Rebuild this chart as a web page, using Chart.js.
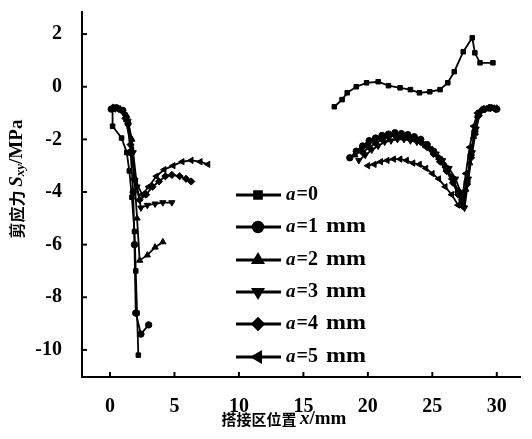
<!DOCTYPE html>
<html>
<head>
<meta charset="utf-8">
<script src="https://cdn.jsdelivr.net/npm/chart.js@4.4.0/dist/chart.umd.min.js"></script>
<style>
html,body{margin:0;padding:0;background:#fff;}
#wrap{width:532px;height:439px;}
</style>
</head>
<body>
<div id="wrap"><canvas id="shear"></canvas></div>
<script>
// series labels + tick values
var seriesNames = ['a=0', 'a=1 mm', 'a=2 mm', 'a=3 mm', 'a=4 mm', 'a=5 mm'];
var xTicks = [0, 5, 10, 15, 20, 25, 30];
var yTicks = [-10, -8, -6, -4, -2, 0, 2];

// a=0 : left drop + right upper curve (null = gap)
var x0 = [0.2,0.2,0.9,1.3,1.5,1.7,1.9,2.0,2.1,2.2,null,17.4,18.0,18.4,19.1,19.9,20.8,21.6,22.5,23.3,24.0,24.8,25.6,26.2,26.7,27.4,28.1,28.3,28.7,29.7];
var y0 = [-0.85,-1.5,-1.95,-2.5,-3.2,-4.2,-5.5,-7.0,-8.6,-10.2,null,-0.76,-0.49,-0.23,0,0.15,0.19,0.04,-0.04,-0.11,-0.23,-0.19,-0.11,0.15,0.57,1.33,1.86,1.29,0.91,0.91];

var x1 = [0.1,0.5,1.0,1.4,1.6,1.8,1.9,2.0,2.4,3.0,null,18.6,19.1,19.6,20.1,20.6,21.1,21.6,22.1,22.6,23.1,23.6,24.1,24.6,25.1,25.6,26.1,26.6,27.0,27.3,27.7,28.0,28.3,28.6,29.0,29.5,30.0];
var y1 = [-0.85,-0.8,-0.9,-1.4,-2.5,-4.0,-6.0,-8.6,-9.4,-9.05,null,-2.7,-2.45,-2.25,-2.05,-1.95,-1.85,-1.8,-1.75,-1.78,-1.82,-1.9,-2.0,-2.2,-2.45,-2.75,-3.1,-3.5,-4.0,-4.4,-3.6,-2.6,-1.7,-1.0,-0.85,-0.8,-0.85];

var x2 = [0.3,0.8,1.3,1.7,1.9,2.1,2.3,2.9,3.5,4.1,null,19.0,19.5,20.0,20.5,21.0,21.5,22.0,22.5,23.0,23.5,24.0,24.5,25.0,25.5,26.0,26.5,27.0,27.3,27.6,27.9,28.2,28.5,28.8,29.2,29.6,30.0];
var y2 = [-0.8,-0.85,-1.1,-2.0,-3.5,-5.0,-6.6,-6.4,-6.1,-5.9,null,-2.6,-2.35,-2.15,-2.0,-1.9,-1.85,-1.82,-1.85,-1.9,-1.95,-2.05,-2.2,-2.4,-2.7,-3.0,-3.45,-3.95,-4.5,-3.9,-2.9,-1.9,-1.1,-0.9,-0.85,-0.8,-0.82];

var x3 = [0.4,0.9,1.4,1.8,2.1,2.4,2.9,3.5,4.1,4.8,null,19.3,19.8,20.3,20.8,21.3,21.8,22.3,22.8,23.3,23.8,24.3,24.8,25.3,25.8,26.3,26.8,27.2,27.5,27.8,28.1,28.4,28.7,29.1,29.5,29.9];
var y3 = [-0.8,-0.9,-1.3,-2.5,-3.8,-4.6,-4.5,-4.45,-4.4,-4.4,null,-2.8,-2.6,-2.4,-2.25,-2.1,-2.05,-2.0,-2.0,-2.05,-2.1,-2.2,-2.35,-2.55,-2.8,-3.1,-3.5,-4.0,-4.6,-3.5,-2.5,-1.6,-1.0,-0.85,-0.8,-0.85];

var x4 = [0.2,0.7,1.2,1.6,1.9,2.3,2.8,3.3,3.8,4.3,4.8,5.4,5.9,6.3,null,19.6,20.1,20.6,21.1,21.6,22.1,22.6,23.1,23.6,24.1,24.6,25.1,25.6,26.1,26.6,27.0,27.4,27.7,28.0,28.3,28.6,29.0,29.4,29.8];
var y4 = [-0.8,-0.85,-1.2,-2.2,-3.5,-4.3,-4.1,-3.8,-3.6,-3.4,-3.35,-3.4,-3.5,-3.6,null,-2.5,-2.3,-2.15,-2.0,-1.9,-1.85,-1.85,-1.9,-1.95,-2.1,-2.3,-2.55,-2.85,-3.2,-3.65,-4.1,-4.55,-3.7,-2.7,-1.8,-1.1,-0.85,-0.8,-0.82];

var x5 = [0.3,0.8,1.3,1.7,2.0,2.5,3.0,3.6,4.2,4.9,5.6,6.3,7.0,7.6,null,20.0,20.5,21.0,21.5,22.0,22.5,23.0,23.5,24.0,24.5,25.0,25.5,26.0,26.5,27.0,27.3,27.6,27.9,28.2,28.5,28.9,29.4,29.9];
var y5 = [-0.85,-0.9,-1.3,-2.4,-3.6,-4.1,-3.8,-3.4,-3.15,-3.0,-2.85,-2.8,-2.85,-2.95,null,-3.0,-2.95,-2.85,-2.8,-2.75,-2.75,-2.8,-2.9,-2.95,-3.1,-3.3,-3.5,-3.8,-4.1,-4.5,-4.3,-3.3,-2.3,-1.5,-1.0,-0.85,-0.82,-0.85];

var xs = [x0, x1, x2, x3, x4, x5];
var ys = [y0, y1, y2, y3, y4, y5];
var markers = ['rect', 'circle', 'triangle', 'triangle', 'rectRot', 'triangle'];
var rotations = [0, 0, 0, 180, 0, 270];
var radii = [3.2, 3.2, 3.6, 3.6, 3.6, 3.6];

function toPoints(xa, ya){
	var pts = [];
	for(var i=0;i<xa.length;i++){
		pts.push(xa[i] === null ? {x: null, y: null} : {x: xa[i], y: ya[i]});
	}
	return pts;
}

var datasets = [];
for(var i=0;i<seriesNames.length;i++){
	datasets.push({
		label: seriesNames[i],
		data: toPoints(xs[i], ys[i]),
		borderColor: '#000',
		backgroundColor: '#000',
		borderWidth: 1.8,
		pointStyle: markers[i],
		pointRotation: rotations[i],
		pointRadius: radii[i],
		pointBorderWidth: 1,
		spanGaps: false,
		tension: 0
	});
}

var serif = '"Liberation Serif", "DejaVu Serif", serif';

// inward tick marks, axis titles, legend
var decor = {
	id: 'decor',
	afterDraw: function(chart){
		var ctx = chart.ctx, xs_ = chart.scales.x, ys_ = chart.scales.y, a = chart.chartArea;
		ctx.save();
		ctx.strokeStyle = '#000';
		ctx.lineWidth = 2;
		xTicks.forEach(function(v){
			var px = xs_.getPixelForValue(v);
			ctx.beginPath(); ctx.moveTo(px, a.bottom); ctx.lineTo(px, a.bottom - 5); ctx.stroke();
		});
		yTicks.forEach(function(v){
			var py = ys_.getPixelForValue(v);
			ctx.beginPath(); ctx.moveTo(a.left, py); ctx.lineTo(a.left + 5, py); ctx.stroke();
		});

		// x title
		ctx.fillStyle = '#000';
		ctx.textBaseline = 'middle';
		var cjk = 'bold 15px "Noto Sans CJK SC"';
		var t1 = '搭接区位置 ';
		ctx.font = cjk; var w1 = ctx.measureText(t1).width;
		ctx.font = 'italic bold 19px ' + serif; var w2 = ctx.measureText('x').width;
		ctx.font = 'bold 19px ' + serif; var w3 = ctx.measureText('/mm').width;
		var sx = 284 - (w1 + w2 + w3) / 2, ty = 419;
		ctx.textAlign = 'left';
		ctx.font = cjk; ctx.fillText(t1, sx, ty);
		ctx.font = 'italic bold 19px ' + serif; ctx.fillText('x', sx + w1, ty);
		ctx.font = 'bold 19px ' + serif; ctx.fillText('/mm', sx + w1 + w2, ty);

		// y title (rotated)
		ctx.save();
		ctx.translate(17, 179);
		ctx.rotate(-Math.PI / 2);
		var p1 = '剪应力 ';
		ctx.font = 'bold 16px "Noto Sans CJK SC"'; var q1 = ctx.measureText(p1).width;
		ctx.font = 'italic bold 19px ' + serif; var q2 = ctx.measureText('S').width;
		ctx.font = 'italic bold 13px ' + serif; var q3 = ctx.measureText('xy').width;
		ctx.font = 'bold 19px ' + serif; var q4 = ctx.measureText('/MPa').width;
		var ox = -(q1 + q2 + q3 + q4) / 2;
		ctx.font = 'bold 16px "Noto Sans CJK SC"'; ctx.fillText(p1, ox, 0);
		ctx.font = 'italic bold 19px ' + serif; ctx.fillText('S', ox + q1, 0);
		ctx.font = 'italic bold 13px ' + serif; ctx.fillText('xy', ox + q1 + q2, 4);
		ctx.font = 'bold 19px ' + serif; ctx.fillText('/MPa', ox + q1 + q2 + q3, 0);
		ctx.restore();

		// legend
		var rowY = [195, 227, 260, 292, 324, 357];
		for(var i=0;i<seriesNames.length;i++){
			var y = rowY[i];
			ctx.lineWidth = 3;
			ctx.beginPath(); ctx.moveTo(236, y); ctx.lineTo(281, y); ctx.stroke();
			Chart.helpers.drawPoint(ctx, {
				pointStyle: markers[i], rotation: rotations[i], radius: radii[i] + 1.5,
				borderWidth: 1
			}, 258, y);
			ctx.fillStyle = '#000';
			ctx.font = 'italic bold 19px ' + serif;
			ctx.fillText('a', 286, y);
			var aw = ctx.measureText('a').width;
			var parts = seriesNames[i].slice(1).split(' ');
			ctx.font = 'bold 20px ' + serif;
			ctx.fillText(parts[0], 286 + aw + 1, y);
			if(parts[1]){
				ctx.save();
				ctx.translate(326, y);
				ctx.scale(1.2, 1);
				ctx.fillText(parts[1], 0, 0);
				ctx.restore();
			}
		}
		ctx.restore();
	}
};

new Chart(document.getElementById('shear').getContext('2d'), {
	type: 'line',
	data: { datasets: datasets },
	options: {
		responsive: true,
		maintainAspectRatio: false,
		animation: false,
		layout: { padding: { top: 12, right: 12, left: 0, bottom: 0 } },
		plugins: { legend: { display: false }, tooltip: { enabled: false } },
		scales: {
			x: {
				type: 'linear',
				min: -2.17,
				max: 31.8,
				afterFit: function(s){ s.height = 62; s.paddingLeft = 0; s.paddingRight = 0; },
				afterBuildTicks: function(s){ s.ticks = xTicks.map(function(v){ return {value: v}; }); },
				grid: { display: false },
				border: { color: '#000', width: 2 },
				ticks: { color: '#000', padding: 10, maxRotation: 0, font: { family: serif, size: 20, weight: 'bold' } }
			},
			y: {
				type: 'linear',
				min: -11.03,
				max: 2.84,
				afterFit: function(s){ s.width = 82; s.paddingTop = 0; s.paddingBottom = 0; },
				afterBuildTicks: function(s){ s.ticks = yTicks.map(function(v){ return {value: v}; }); },
				grid: { display: false },
				border: { color: '#000', width: 2 },
				ticks: { color: '#000', padding: 12, font: { family: serif, size: 20, weight: 'bold' } }
			}
		}
	},
	plugins: [decor]
});
</script>
</body>
</html>
